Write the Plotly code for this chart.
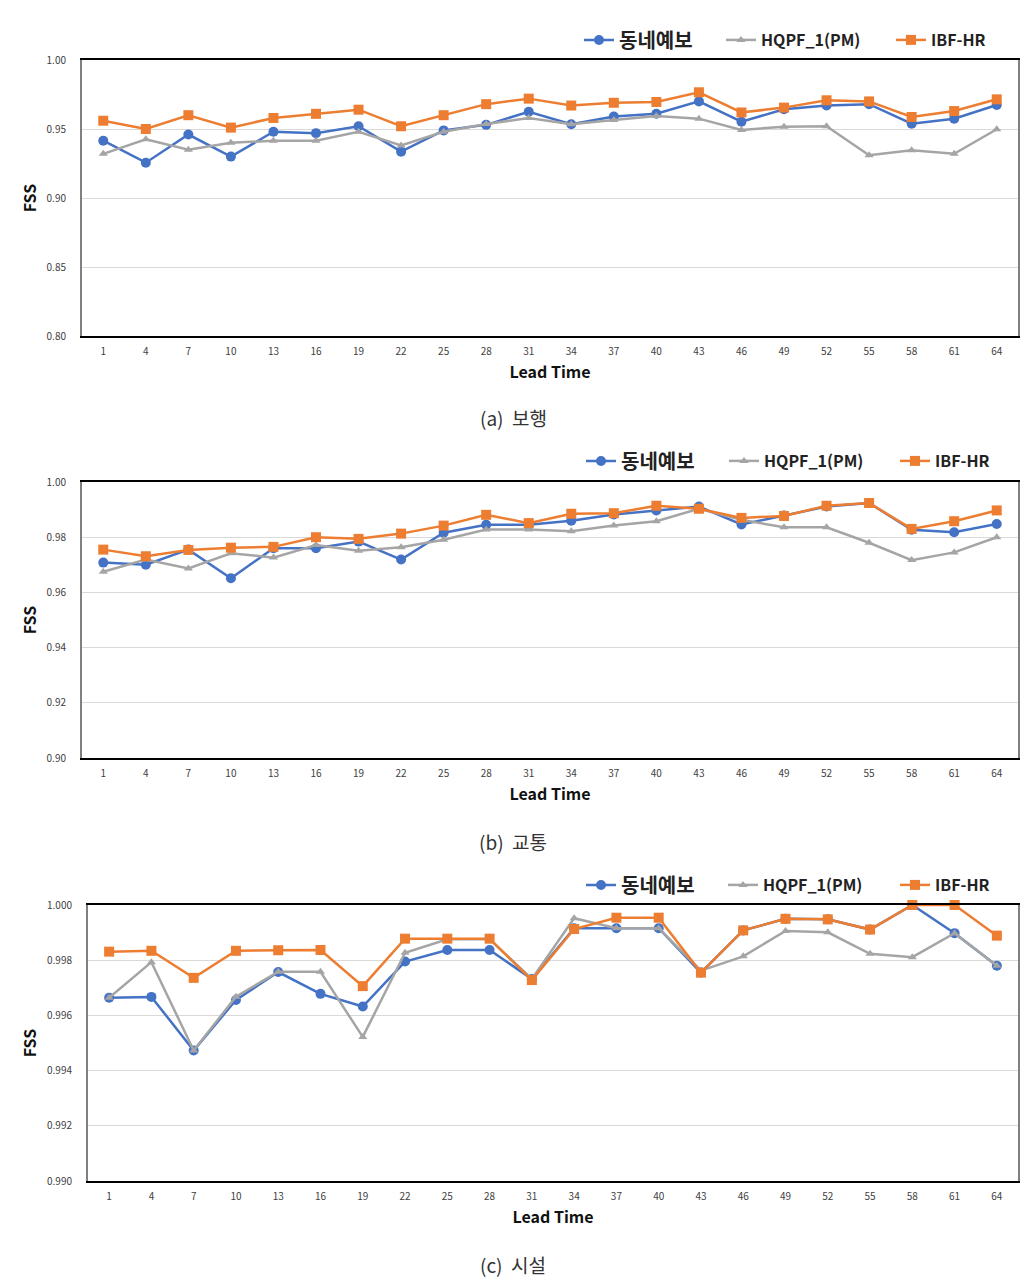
import plotly.graph_objects as go

lead_times = ["1", "4", "7", "10", "13", "16", "19", "22", "25", "28", "31",
              "34", "37", "40", "43", "46", "49", "52", "55", "58", "61", "64"]

# (a) 보행
a_dongne = [0.9415, 0.9256, 0.946, 0.930, 0.948, 0.947, 0.952, 0.9336, 0.949, 0.953, 0.9625,
            0.9534, 0.959, 0.961, 0.970, 0.9553, 0.9643, 0.967, 0.968, 0.9538, 0.9575, 0.9674]
a_hqpf = [0.932, 0.9425, 0.935, 0.940, 0.9415, 0.9415, 0.948, 0.938, 0.948, 0.9536, 0.958,
          0.9534, 0.9565, 0.9594, 0.9575, 0.9493, 0.9517, 0.952, 0.931, 0.9346, 0.932, 0.9498]
a_ibf = [0.956, 0.950, 0.960, 0.951, 0.958, 0.961, 0.964, 0.952, 0.960, 0.968, 0.972,
         0.967, 0.969, 0.9696, 0.9766, 0.962, 0.9655, 0.9708, 0.970, 0.9587, 0.963, 0.9715]

# (b) 교통
b_dongne = [0.9708, 0.9700, 0.9755, 0.9651, 0.976, 0.976, 0.9784, 0.9719, 0.9816, 0.9845, 0.9845,
            0.986, 0.9882, 0.9897, 0.9911, 0.9846, 0.9879, 0.9911, 0.9924, 0.9827, 0.9818, 0.9848]
b_hqpf = [0.9675, 0.9719, 0.9687, 0.9742, 0.9726, 0.9772, 0.9751, 0.9764, 0.9791, 0.9828, 0.9828,
          0.9822, 0.9842, 0.9858, 0.9903, 0.9863, 0.9836, 0.9836, 0.978, 0.9717, 0.9745, 0.980]
b_ibf = [0.9755, 0.9731, 0.9754, 0.9762, 0.9765, 0.980, 0.9794, 0.9813, 0.9842, 0.9881, 0.9851,
         0.9885, 0.9887, 0.9914, 0.9903, 0.987, 0.9877, 0.9914, 0.9924, 0.983, 0.9858, 0.9897]

# (c) 시설
c_dongne = [0.99664, 0.99667, 0.99473, 0.99656, 0.99757, 0.99678, 0.99632, 0.99795, 0.99837, 0.99837, 0.99732,
            0.99916, 0.99916, 0.99916, 0.99755, 0.99908, 0.9995, 0.99948, 0.99911, 1.0000, 0.99898, 0.9978]
c_hqpf = [0.99664, 0.99793, 0.99473, 0.99668, 0.99758, 0.99758, 0.99522, 0.99827, 0.99876, 0.99876, 0.99732,
          0.99952, 0.99916, 0.99916, 0.99762, 0.99814, 0.99906, 0.99901, 0.99823, 0.99811, 0.99898, 0.9978]
c_ibf = [0.99831, 0.99834, 0.99736, 0.99834, 0.99836, 0.99837, 0.99706, 0.99878, 0.99878, 0.99878, 0.99728,
         0.99913, 0.99954, 0.99954, 0.99755, 0.99908, 0.9995, 0.99948, 0.99911, 1.0000, 1.0000, 0.99889]

series_names = ["동네예보", "HQPF_1(PM)", "IBF-HR"]
captions = ["(a)  보행", "(b)  교통", "(c)  시설"]
y_ranges = [(0.80, 1.00, 0.05, ".2f"), (0.90, 1.00, 0.02, ".2f"), (0.990, 1.000, 0.002, ".3f")]
panels = [(a_dongne, a_hqpf, a_ibf), (b_dongne, b_hqpf, b_ibf), (c_dongne, c_hqpf, c_ibf)]

W, H = 1028, 1288
FONT = "Noto Sans CJK KR"
colors = ["#4472C4", "#A5A5A5", "#ED7D31"]
symbols = ["circle", "triangle-up", "square"]
msizes = [10, 8, 10]
leg_font = [20, 16, 16]

# pixel layout of each panel: (left, right, top, bottom, legend y, caption y)
boxes = [(82, 1018, 60, 336, 40, 418),
         (82, 1018, 482, 758, 461, 841),
         (88, 1018, 905, 1181, 885, 1264)]
# legend sample start x for each item, per panel
leg_x = [(585, 727, 897), (587, 730, 901), (587, 729, 901)]

fig = go.Figure()
layout = dict(width=W, height=H, margin=dict(l=0, r=0, t=0, b=0),
              paper_bgcolor="white", plot_bgcolor="white",
              font=dict(family=FONT, color="#404040"), showlegend=True)
annotations = []

for i, (vals, box, yr, cap) in enumerate(zip(panels, boxes, y_ranges, captions)):
    l, r, t, b, ly, cy = box
    sfx = "" if i == 0 else str(i + 1)
    for k in range(3):
        n = i * 3 + k + 1
        legname = "legend" if n == 1 else f"legend{n}"
        fig.add_trace(go.Scatter(
            x=lead_times, y=vals[k], mode="lines+markers", name=series_names[k],
            line=dict(color=colors[k], width=2.5),
            marker=dict(symbol=symbols[k], size=msizes[k], color=colors[k]),
            xaxis="x" + sfx, yaxis="y" + sfx, legend=legname, cliponaxis=False))
        layout[legname] = dict(
            orientation="h", x=(leg_x[i][k] - 6) / W, y=1 - ly / H,
            xanchor="left", yanchor="middle",
            font=dict(size=leg_font[k], color="#222222", family=FONT, weight="bold"),
            bgcolor="rgba(0,0,0,0)", itemwidth=30)
    layout["xaxis" + sfx] = dict(
        domain=[l / W, r / W], anchor="y" + sfx, type="category",
        range=[-0.5, 21.5], showgrid=False, showline=True, mirror=True,
        linecolor="#000000", linewidth=1.5, ticks="outside", ticklen=5,
        tickcolor="rgba(0,0,0,0)", tickfont=dict(size=10, color="#404040"),
        title=dict(text="<b>Lead Time</b>", font=dict(size=16, color="#111111"), standoff=10),
        automargin=False, zeroline=False)
    y0, y1, dt, fmt = yr
    layout["yaxis" + sfx] = dict(
        domain=[1 - b / H, 1 - t / H], anchor="x" + sfx, range=[y0, y1],
        dtick=dt, tick0=y0, tickformat=fmt, showgrid=True, gridcolor="#D9D9D9",
        gridwidth=1, showline=True, mirror=True, linecolor="#808080",
        linewidth=2, ticks="outside", ticklen=12, tickcolor="rgba(0,0,0,0)",
        tickfont=dict(size=10, color="#404040"),
        title=dict(text="<b>FSS</b>", font=dict(size=16, color="#111111"), standoff=6),
        automargin=False, zeroline=False)
    annotations.append(dict(
        text=cap, x=513 / W, y=1 - cy / H, xref="paper", yref="paper",
        xanchor="center", yanchor="middle", showarrow=False,
        font=dict(size=19, color="#333333", family=FONT)))

layout["annotations"] = annotations
fig.update_layout(**layout)
fig.write_html("out.html", config={"displayModeBar": False},
               post_script="document.body.style.margin='0px';document.body.style.overflow='hidden';")
